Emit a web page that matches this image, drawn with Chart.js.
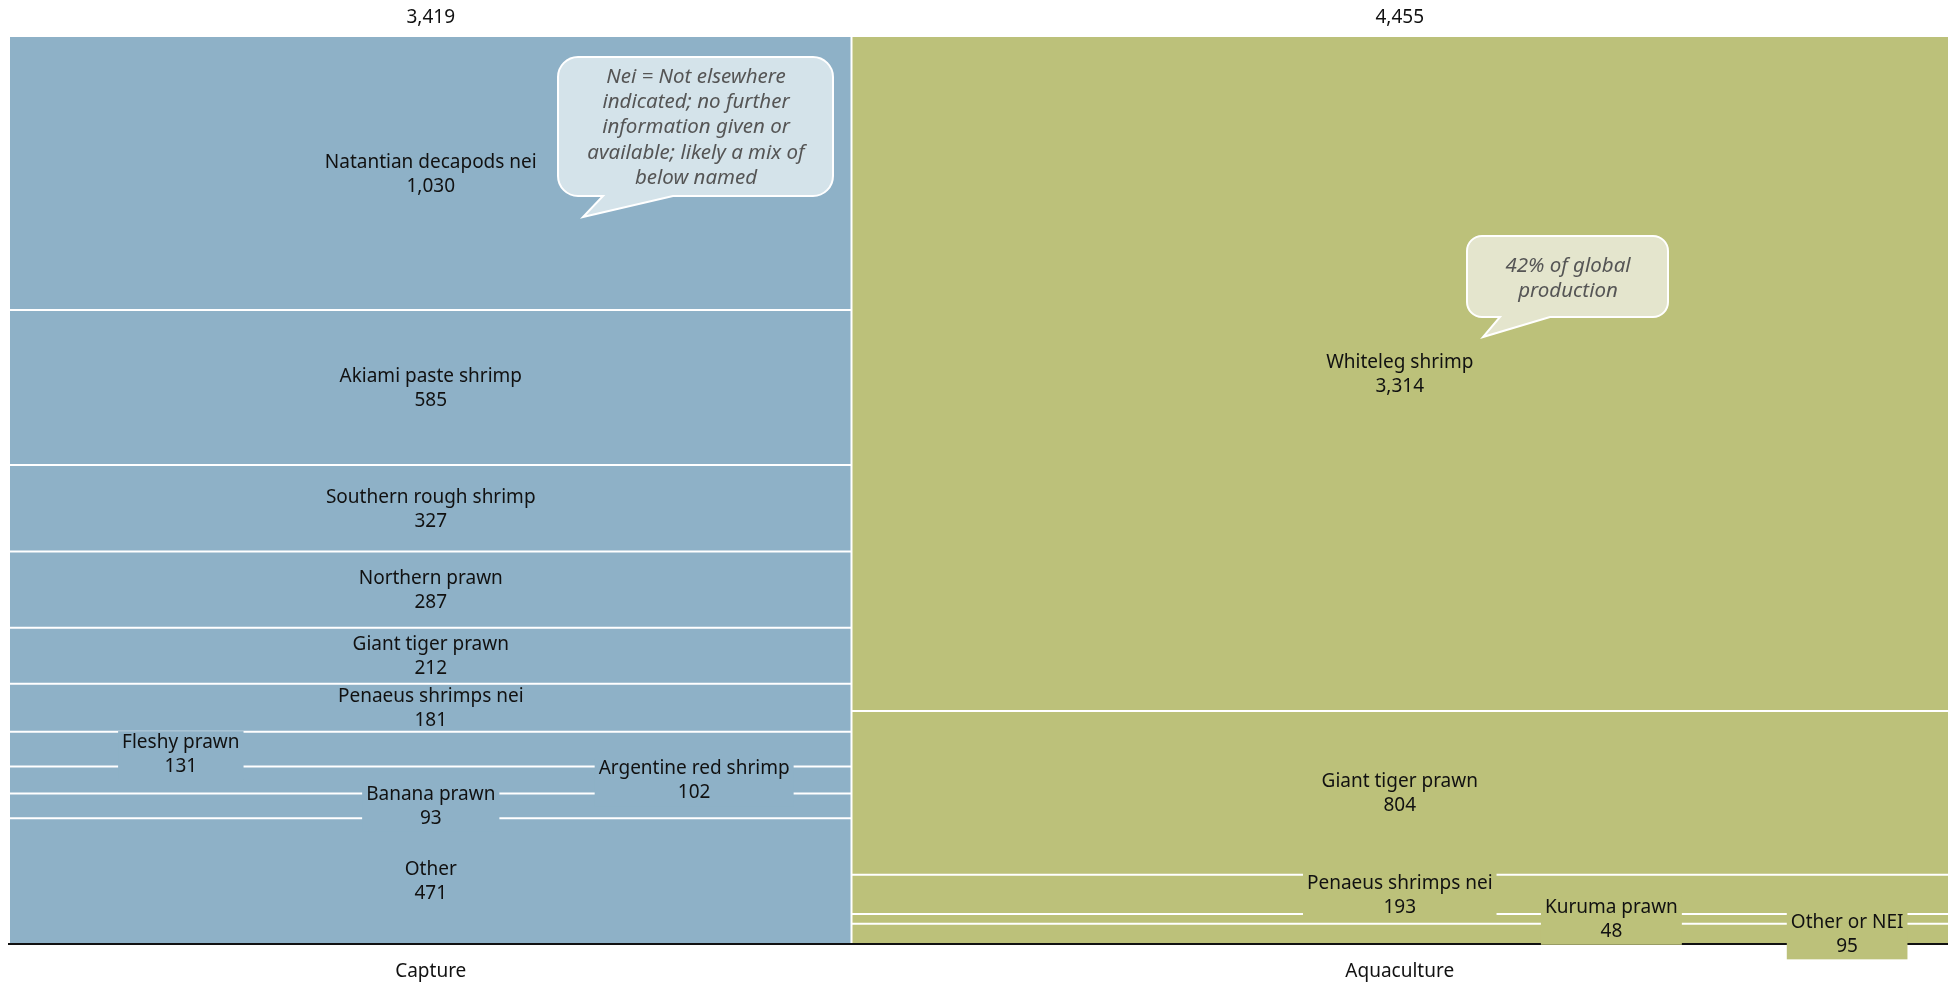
<!DOCTYPE html>
<html>
<head>
<meta charset="utf-8">
<script src="https://cdn.jsdelivr.net/npm/chart.js"></script>
<style>
  body { margin: 0; background: #fff; }
  #wrap { width: 1948px; height: 983px; }
</style>
</head>
<body>
<div id="wrap"><canvas id="myChart"></canvas></div>
<script>
// shrimp production, thousand tonnes
var categories = ["Capture", "Aquaculture"];
var categoryTotals = [3419, 4455];

var captureSpecies = ["Natantian decapods nei", "Akiami paste shrimp", "Southern rough shrimp", "Northern prawn",
  "Giant tiger prawn", "Penaeus shrimps nei", "Fleshy prawn", "Argentine red shrimp", "Banana prawn", "Other"];
var captureValues = [1030, 585, 327, 287, 212, 181, 131, 102, 93, 471];

var aquacultureSpecies = ["Whiteleg shrimp", "Giant tiger prawn", "Penaeus shrimps nei", "Kuruma prawn", "Other or NEI"];
var aquacultureValues = [3314, 804, 193, 48, 95];

var colours = ["#8eb1c7", "#bcc17a"];
var textColour = "#111";
var font = "'Noto Sans'";
var fontSize = 19;

// small segments get their label moved sideways (share of column width)
var labelAcross = {"Fleshy prawn": 0.203, "Argentine red shrimp": 0.813, "Kuruma prawn": 0.693, "Other or NEI": 0.908};
var labelNudge = {"Fleshy prawn": 4};

var columns = [
  {species: captureSpecies, values: captureValues},
  {species: aquacultureSpecies, values: aquacultureValues}
];

var datasets = [];
var segments = [];
var xStart = 0;
columns.forEach(function(col, c) {
  var sum = col.values.reduce(function(a, b) { return a + b; }, 0);
  var xEnd = xStart + categoryTotals[c];
  var cum = 0;
  col.values.forEach(function(v, i) {
    var top = 100 - cum / sum * 100;
    cum += v;
    var bottom = 100 - cum / sum * 100;
    datasets.push({
      data: [{x: xStart, y: top}, {x: xEnd, y: top}],
      fill: {value: bottom},
      backgroundColor: colours[c],
      borderColor: "#fff",
      borderWidth: i === 0 ? 0 : 2,
      pointRadius: 0
    });
    segments.push({name: col.species[i], value: v, col: c, x0: xStart, x1: xEnd, top: top, bottom: bottom});
  });
  xStart = xEnd;
});
// white divider between the two columns
datasets.push({
  data: [{x: categoryTotals[0], y: 0}, {x: categoryTotals[0], y: 100}],
  fill: false,
  borderColor: "#fff",
  borderWidth: 2,
  pointRadius: 0
});

function fmt(n) { return n.toLocaleString("en-US"); }

function bubble(ctx, b) {
  var r = b.r;
  ctx.beginPath();
  ctx.moveTo(b.x0 + r, b.y0);
  ctx.lineTo(b.x1 - r, b.y0);
  ctx.arcTo(b.x1, b.y0, b.x1, b.y0 + r, r);
  ctx.lineTo(b.x1, b.y1 - r);
  ctx.arcTo(b.x1, b.y1, b.x1 - r, b.y1, r);
  ctx.lineTo(b.tail[2], b.y1);
  ctx.lineTo(b.tail[1][0], b.tail[1][1]);
  ctx.lineTo(b.tail[0], b.y1);
  ctx.lineTo(b.x0 + r, b.y1);
  ctx.arcTo(b.x0, b.y1, b.x0, b.y1 - r, r);
  ctx.lineTo(b.x0, b.y0 + r);
  ctx.arcTo(b.x0, b.y0, b.x0 + r, b.y0, r);
  ctx.closePath();
  ctx.fillStyle = b.fill;
  ctx.fill();
  ctx.strokeStyle = "#fff";
  ctx.lineWidth = 2;
  ctx.stroke();
  ctx.fillStyle = "#555";
  ctx.font = "italic 20.5px " + font;
  ctx.textAlign = "center";
  ctx.textBaseline = "middle";
  b.lines.forEach(function(t, i) {
    ctx.fillText(t, b.cx, b.ty + i * 25.3);
  });
}

var labelsPlugin = {
  id: "labels",
  afterDatasetsDraw: function(chart) {
    var ctx = chart.ctx, xs = chart.scales.x, ys = chart.scales.y, area = chart.chartArea;
    ctx.save();

    // baseline
    ctx.strokeStyle = "#111";
    ctx.lineWidth = 2;
    ctx.beginPath();
    ctx.moveTo(area.left - 2, area.bottom + 1);
    ctx.lineTo(area.right, area.bottom + 1);
    ctx.stroke();

    ctx.font = fontSize + "px " + font;
    ctx.textAlign = "center";
    ctx.textBaseline = "middle";

    segments.forEach(function(s) {
      var f = labelAcross[s.name] !== undefined ? labelAcross[s.name] : 0.5;
      var cx = xs.getPixelForValue(s.x0 + (s.x1 - s.x0) * f);
      var yTop = ys.getPixelForValue(s.top), yBot = ys.getPixelForValue(s.bottom);
      var cy = (yTop + yBot) / 2 + 1 + (labelNudge[s.name] || 0);
      var l1 = cy - 12, l2 = cy + 12;
      // only labels that spill over their segment get a knock-out box
      if (yBot - yTop < 45) {
        var w = Math.max(ctx.measureText(s.name).width, ctx.measureText(fmt(s.value)).width) + 8;
        ctx.fillStyle = colours[s.col];
        ctx.fillRect(cx - w / 2, l1 - 11, w, l2 - l1 + 24);
      }
      ctx.fillStyle = textColour;
      ctx.fillText(s.name, cx, l1);
      ctx.fillText(fmt(s.value), cx, l2);
    });

    // totals on top, categories below
    var start = 0;
    categories.forEach(function(cat, c) {
      var cx = xs.getPixelForValue(start + categoryTotals[c] / 2);
      ctx.fillStyle = textColour;
      ctx.fillText(fmt(categoryTotals[c]), cx, area.top - 19);
      ctx.fillText(cat, cx, area.bottom + 29);
      start += categoryTotals[c];
    });

    bubble(ctx, {x0: 558, x1: 833, y0: 57, y1: 196, r: 20, fill: "#d4e3ea",
      tail: [603, [583, 217], 673], cx: 696, ty: 77,
      lines: ["Nei = Not elsewhere", "indicated; no further", "information given or", "available; likely a mix of", "below named"]});
    bubble(ctx, {x0: 1467, x1: 1668, y0: 236, y1: 317, r: 15, fill: "#e4e5cd",
      tail: [1500, [1483, 337], 1550], cx: 1568, ty: 266,
      lines: ["42% of global", "production"]});

    ctx.restore();
  }
};

new Chart("myChart", {
  type: "line",
  data: {datasets: datasets},
  options: {
    responsive: true,
    maintainAspectRatio: false,
    animation: false,
    devicePixelRatio: 1,
    layout: {padding: {left: 10, right: 0, top: 37, bottom: 40}},
    scales: {
      x: {type: "linear", min: 0, max: categoryTotals[0] + categoryTotals[1], display: false},
      y: {type: "linear", min: 0, max: 100, display: false}
    },
    elements: {line: {tension: 0}},
    plugins: {
      legend: {display: false},
      tooltip: {enabled: false},
      filler: {drawTime: "beforeDatasetsDraw"}
    }
  },
  plugins: [labelsPlugin]
});
</script>
</body>
</html>
